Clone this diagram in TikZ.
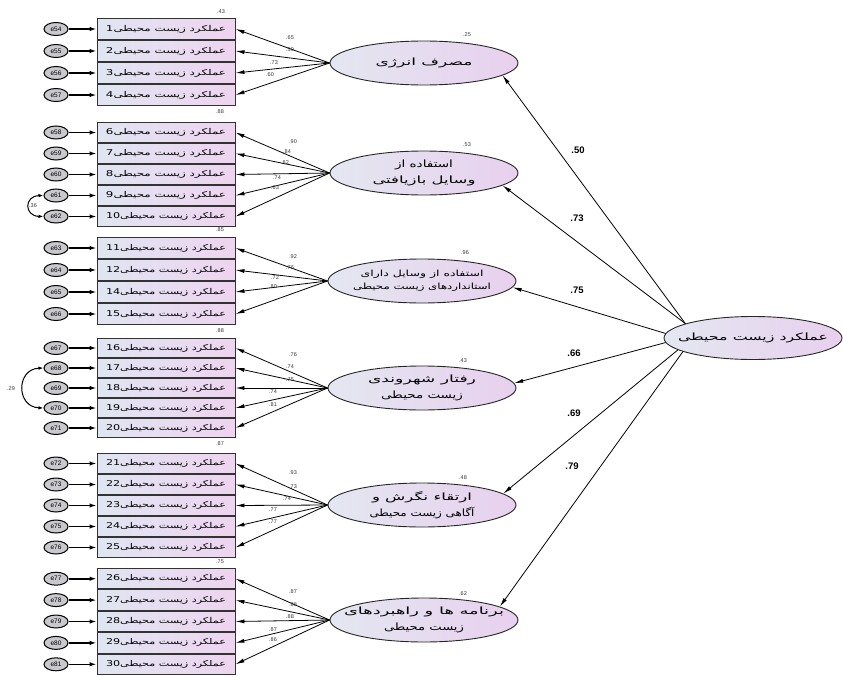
\documentclass[tikz,border=0pt]{standalone}
\usepackage{fontspec}
\usepackage{graphicx}
\setmainfont{Liberation Sans}
\newfontfamily\arabicfont[Script=Arabic]{DejaVu Sans}
\TeXXeTstate=1
\usetikzlibrary{arrows.meta,shapes.geometric}
\newcommand{\fw}[2]{\resizebox{#1}{\height}{\arabicfont #2}}
\definecolor{boxL}{RGB}{224,229,241}
\definecolor{boxR}{RGB}{238,212,240}
\definecolor{ellL}{RGB}{228,231,241}
\definecolor{ellR}{RGB}{232,208,238}
\definecolor{errF}{RGB}{200,200,205}
\begin{document}
\begin{tikzpicture}[x=1pt,y=-1pt,
  ind/.style={draw=black!80, line width=0.9pt, rectangle, minimum width=138pt, inner sep=0pt,
    left color=boxL, right color=boxR, font=\fontsize{8}{9}\selectfont},
  errn/.style={draw=black, line width=1pt, ellipse, minimum width=24pt, minimum height=13pt,
    inner sep=0pt, fill=errF, font=\fontsize{6.5}{7}\selectfont},
  lat/.style={draw=black!85, line width=0.9pt, ellipse, minimum width=188pt, minimum height=44pt,
    inner sep=0pt, left color=ellL, right color=ellR},
  lattext/.style={align=center, inner sep=0pt, font=\fontsize{10}{16}\selectfont},
  errarr/.style={-{Latex[length=7pt,width=4.5pt]}, line width=1.6pt},
  load/.style={-{Latex[length=9pt,width=4pt]}, line width=0.8pt},
  struct/.style={-{Latex[length=9pt,width=4pt]}, line width=0.8pt},
  cov/.style={{Latex[length=5pt,width=3.5pt]}-{Latex[length=5pt,width=3.5pt]}, line width=1pt},
  lbl/.style={inner sep=0pt, font=\fontsize{5.5}{6}\selectfont, text=black!80},
  coef/.style={inner sep=0pt, font=\fontsize{9.5}{10}\selectfont\bfseries}]
\useasboundingbox (0,0) rectangle (843,677);

% observed indicators and their errors
\foreach \n/\e/\y/\h in {1/e54/29/22, 2/e55/51/22, 3/e56/73/22, 4/e57/95/22,
  6/e58/132.5/21, 7/e59/153.5/21, 8/e60/174.5/21, 9/e61/195.5/21, 10/e62/216.5/21,
  11/e63/248/22, 12/e64/270/22, 14/e65/292/22, 15/e66/314/22,
  16/e67/348/20, 17/e68/368/20, 18/e69/388/20, 19/e70/408/20, 20/e71/428/20,
  21/e72/463.5/21, 22/e73/484.5/21, 23/e74/505.5/21, 24/e75/526.5/21, 25/e76/547.5/21,
  26/e77/578.7/21.4, 27/e78/600.1/21.4, 28/e79/621.5/21.4, 29/e80/642.9/21.4, 30/e81/664.3/21.4}{
  \node[ind, minimum height={\h*1pt-1pt}] (b\n) at (166,\y) {\fw{120pt}{\beginR عملکرد زیست محیطی\beginL\n\endL\endR}};
  \node[errn] (\e) at (56,\y) {\e};
  \draw[errarr] (\e.east) -- (b\n.west);
}

% latent factors
\node[lat] (E1) at (424,63) {};
\node[lattext] (E1t) at (E1) {\fw{97pt}{\beginR مصرف انرژی\endR}};
\node[lat] (E2) at (424,173) {};
\node[lattext] (E2t) at (E2) {\fw{58pt}{\beginR استفاده از\endR}\\\fw{103pt}{\beginR وسایل بازیافتی\endR}};
\node[lat] (E3) at (422,281) {};
\node[lattext, font=\fontsize{8.5}{13}\selectfont] (E3t) at (E3) {\fw{123pt}{\beginR استفاده از وسایل دارای\endR}\\\fw{138pt}{\beginR استانداردهای زیست محیطی\endR}};
\node[lat] (E4) at (422,388) {};
\node[lattext] (E4t) at (E4) {\fw{108pt}{\beginR رفتار شهروندی\endR}\\\fw{82pt}{\beginR زیست محیطی\endR}};
\node[lat] (E5) at (422,505) {};
\node[lattext] (E5t) at (E5) {\fw{100pt}{\beginR ارتقاء نگرش و\endR}\\\fw{105pt}{\beginR آگاهی زیست محیطی\endR}};
\node[lat] (E6) at (424,620) {};
\node[lattext] (E6t) at (E6) {\fw{160pt}{\beginR برنامه ها و راهبردهای\endR}\\\fw{80pt}{\beginR زیست محیطی\endR}};

\node[lat, minimum width=178pt, minimum height=43pt] (M) at (753,338) {};
\node[lattext] (Mt) at (M) {\fw{150pt}{\beginR عملکرد زیست محیطی\endR}};

% latent R2
\node[lbl] (q1) at (467,35) {.25};
\node[lbl] (q2) at (467,145) {.53};
\node[lbl] (q3) at (465,253) {.96};
\node[lbl] (q4) at (463,361) {.43};
\node[lbl] (q5) at (463,478) {.48};
\node[lbl] (q6) at (463,594) {.62};

% indicator R2 (visible ones)
\node[lbl] (r1) at (221,12) {.43};
\node[lbl] (r6) at (220,112) {.88};
\node[lbl] (r11) at (220,230) {.85};
\node[lbl] (r16) at (220,331) {.88};
\node[lbl] (r21) at (220,444) {.87};
\node[lbl] (r26) at (220,562) {.75};

% loadings
\foreach \g/\b/\v/\lx/\ly in {E1/1/.65/290/38, E1/2/.59/290/50, E1/3/.73/274/63, E1/4/.60/270/75,
  E2/6/.90/293/142, E2/7/.84/287/152, E2/8/.82/285/163, E2/9/.74/277/178, E2/10/.63/275/188,
  E3/11/.92/293/257, E3/12/.76/290/268, E3/14/.72/275/278, E3/15/.80/273/287,
  E4/16/.76/293/355, E4/17/.74/290/367, E4/18/.75/290/380, E4/19/.74/273/392, E4/20/.81/273/405,
  E5/21/.93/293/473, E5/22/.73/293/487, E5/23/.74/287/499, E5/24/.77/273/510, E5/25/.77/273/522,
  E6/26/.87/293/592, E6/27/.88/293/605, E6/28/.88/290/617, E6/29/.87/273/630, E6/30/.86/273/640}{
  \draw[load] (\g.west) -- (b\b.east);
  \node[lbl] (l\b) at (\lx,\ly) {\v};
}

% structural paths
\draw[struct] (M.168) -- (E1.-9);
\draw[struct] (M.168) -- (E2.-9);
\draw[struct] (M.177) -- (E3.-4);
\draw[struct] (M.183) -- (E4.3);
\draw[struct] (M.189) -- (E5.8);
\draw[struct] (M.191) -- (E6.10);
\node[coef] (p1) at (578,150) {.50};
\node[coef] (p2) at (577,218) {.73};
\node[coef] (p3) at (577,290) {.75};
\node[coef] (p4) at (574,353) {.66};
\node[coef] (p5) at (574,413) {.69};
\node[coef] (p6) at (572,466) {.79};

% error covariances
\draw[cov] (e61.west) .. controls (24,196) and (24,216) .. (e62.west);
\node[lbl] (c1) at (33,206) {.36};
\draw[cov] (e68.west) .. controls (16,369) and (16,407) .. (e70.west);
\node[lbl] (c2) at (11,389) {.29};
\end{tikzpicture}
\end{document}
